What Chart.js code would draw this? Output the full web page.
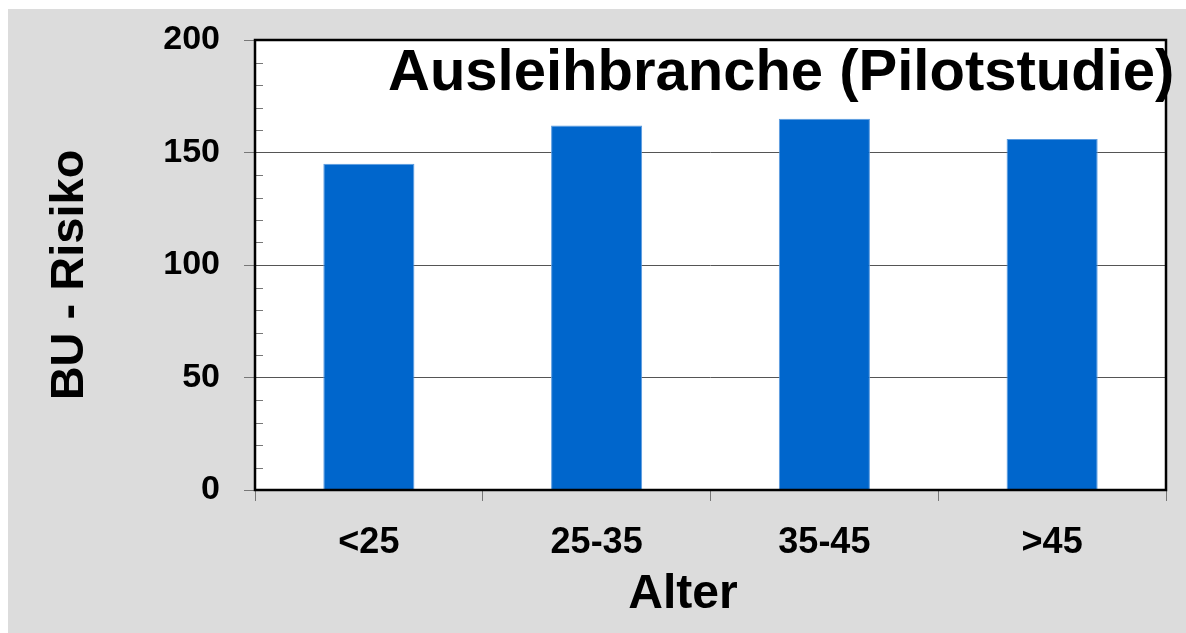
<!DOCTYPE html>
<html>
<head>
<meta charset="utf-8">
<script src="https://cdn.jsdelivr.net/npm/chart.js@4"></script>
<style>
  html, body { margin: 0; padding: 0; background: #fff; }
  #wrap { position: absolute; left: 8px; top: 9px; width: 1178px; height: 624px; background: #dcdcdc; }
</style>
</head>
<body>
<div id="wrap"><canvas id="buChart" width="1178" height="624"></canvas></div>
<script>
  // values
  const ageGroups = ["<25", "25-35", "35-45", ">45"];
  const buRisk = [145, 162, 165, 156];
  const chartTitle = "Ausleihbranche (Pilotstudie)";
  const xTitle = "Alter";
  const yTitle = "BU - Risiko";

  const FONT = "'Liberation Sans', Arial, sans-serif";

  // white plot background, frame, inward minor ticks and the texts
  const decorations = {
    id: "decorations",
    beforeDraw(chart) {
      const { ctx, chartArea: a } = chart;
      ctx.save();
      ctx.fillStyle = "#fff";
      ctx.fillRect(a.left, a.top, a.right - a.left, a.bottom - a.top);
      ctx.restore();
    },
    afterDraw(chart) {
      const { ctx, chartArea: a } = chart;
      const y = chart.scales.y;
      ctx.save();

      // minor ticks pointing inwards
      ctx.strokeStyle = "#777";
      ctx.lineWidth = 1;
      for (let v = 10; v < 200; v += 10) {
        if (v % 50 === 0) continue;
        const py = Math.round(y.getPixelForValue(v)) + 0.5;
        ctx.beginPath();
        ctx.moveTo(a.left, py);
        ctx.lineTo(a.left + 8, py);
        ctx.stroke();
      }

      // frame
      ctx.strokeStyle = "#000";
      ctx.lineWidth = 2.5;
      ctx.strokeRect(a.left, a.top, a.right - a.left, a.bottom - a.top);

      ctx.fillStyle = "#000";

      // title inside the plot
      ctx.font = "bold 58px " + FONT;
      ctx.textAlign = "left";
      ctx.textBaseline = "alphabetic";
      ctx.fillText(chartTitle, 380, 81);

      // x title
      ctx.font = "bold 48px " + FONT;
      ctx.textAlign = "center";
      ctx.fillText(xTitle, 675, 599);

      // y title
      ctx.font = "bold 47px " + FONT;
      ctx.translate(75, 266);
      ctx.rotate(-Math.PI / 2);
      ctx.fillText(yTitle, 0, 0);

      ctx.restore();
    }
  };

  new Chart(document.getElementById("buChart"), {
    type: "bar",
    data: {
      labels: ageGroups,
      datasets: [{
        label: yTitle,
        data: buRisk,
        backgroundColor: "#0066cc",
        borderColor: "#5a9be0",
        borderWidth: 1,
        borderSkipped: "bottom",
        barPercentage: 0.4,
        categoryPercentage: 1
      }]
    },
    options: {
      responsive: false,
      animation: false,
      layout: { padding: { left: 0, top: 31, right: 20, bottom: 0 } },
      plugins: {
        legend: { display: false },
        tooltip: { enabled: false }
      },
      scales: {
        x: {
          grid: {
            offset: true,
            drawOnChartArea: false,
            drawTicks: true,
            tickLength: 11,
            color: "#777"
          },
          border: { display: false },
          ticks: {
            color: "#000",
            padding: 20,
            font: { family: FONT, size: 36, weight: "bold" }
          },
          afterFit(scale) {
            scale.height = 143;
            scale.paddingLeft = 0;
            scale.paddingRight = 0;
          }
        },
        y: {
          min: 0,
          max: 200,
          grid: {
            color: (c) => (c.tick && c.tick.value % 50 === 0 ? "#555" : "rgba(0,0,0,0)"),
            tickColor: (c) => (c.tick && c.tick.value % 50 === 0 ? "#777" : "rgba(0,0,0,0)"),
            tickLength: 11,
            lineWidth: 1
          },
          border: { display: false },
          ticks: {
            stepSize: 10,
            autoSkip: false,
            color: "#000",
            padding: 24,
            font: { family: FONT, size: 34, weight: "bold" },
            callback: (v) => (v % 50 === 0 ? v : "")
          },
          afterFit(scale) {
            scale.width = 247;
            scale.paddingTop = 0;
            scale.paddingBottom = 0;
          }
        }
      }
    },
    plugins: [decorations]
  });
</script>
</body>
</html>
